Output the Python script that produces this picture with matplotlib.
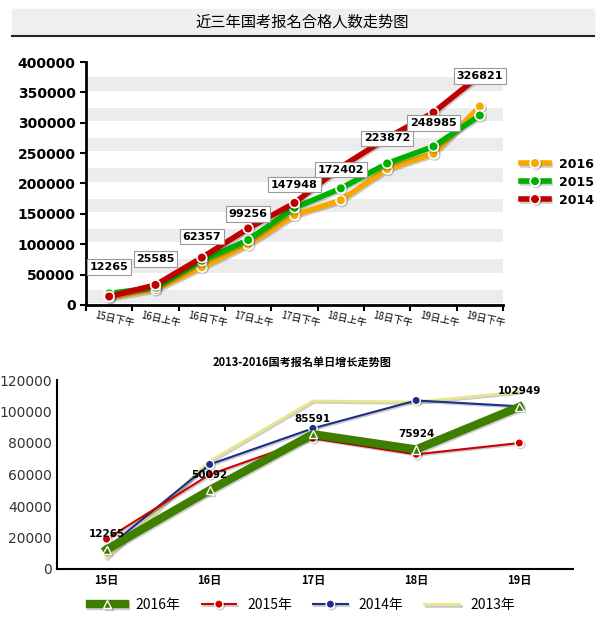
import matplotlib
matplotlib.use("Agg")
import matplotlib.pyplot as plt
import matplotlib.patheffects as pe
from matplotlib import font_manager as fm
from matplotlib.patches import Rectangle

cjk = None
for f in fm.fontManager.ttflist:
    if 'CJK' in f.name and ('SC' in f.name or cjk is None):
        cjk = f.name
        if 'SC' in f.name:
            break
plt.rcParams['font.family'] = 'sans-serif'
plt.rcParams['font.sans-serif'] = [cjk or 'Noto Sans CJK SC', 'DejaVu Sans']

top_cats = ["15日下午", "16日上午", "16日下午", "17日上午", "17日下午", "18日上午", "18日下午", "19日上午", "19日下午"]
s2016 = [12265, 25585, 62357, 99256, 147948, 172402, 223872, 248985, 326821]
s2015 = [19000, 29000, 73000, 107000, 160000, 192000, 233000, 261000, 312000]
s2014 = [14000, 33000, 78000, 126000, 168000, 227000, 275000, 317000, 378000]
top_yticks = [0, 50000, 100000, 150000, 200000, 250000, 300000, 350000, 400000]

bot_cats = ["15日", "16日", "17日", "18日", "19日"]
d2016 = [12265, 50092, 85591, 75924, 102949]
d2015 = [19000, 60000, 83000, 72800, 80000]
d2014 = [13000, 66400, 89300, 107000, 103300]
d2013 = [7000, 68500, 106700, 106000, 112400]
bot_yticks = [0, 20000, 40000, 60000, 80000, 100000, 120000]

fig = plt.figure(figsize=(6.05, 6.19), dpi=100)
fig.patches.append(Rectangle((12/605, 1-35/619), 582/605, 26/619, transform=fig.transFigure, color='#efefef', zorder=0))
fig.add_artist(plt.Line2D([12/605, 594/605], [1-36/619, 1-36/619], color='#222222', lw=1.5))
fig.text(0.5, 1-22/619, "近三年国考报名合格人数走势图", ha='center', va='center', fontsize=11)

ax = fig.add_axes([86/605, 1-305/619, 417/605, 243/619])
ax.set_xlim(0, 9)
ax.set_ylim(0, 400000)
for y in range(0, 400000, 50000):
    ax.axhspan(y + 3000, y + 25000, color='#ececec', zorder=0, lw=0)
xs = [i + 0.5 for i in range(9)]
sh = [pe.SimpleLineShadow(offset=(1, -1), alpha=0.2), pe.Normal()]
for data, col, lab in [(s2016, '#f5a800', '2016'), (s2015, '#00b000', '2015'), (s2014, '#c00000', '2014')]:
    ax.plot(xs, data, color=col, lw=4, marker='o', ms=7, mec='white', mew=1.2, label=lab, path_effects=sh, zorder=3)
for x, v in zip(xs, s2016):
    ax.annotate(str(v), (x, v), xytext=(0, 22), textcoords='offset points', ha='center', va='center', fontsize=8,
                fontweight='bold', family='DejaVu Sans',
                bbox=dict(boxstyle='square,pad=0.25', fc='white', ec='#999999', lw=0.8), zorder=5)
ax.set_yticks(top_yticks)
ax.set_yticklabels([str(t) for t in top_yticks], fontsize=10, fontweight='bold', family='DejaVu Sans')
ax.set_xticks(range(10))
ax.set_xticklabels([])
for x, c in zip(xs, top_cats):
    ax.text(x + 0.12, -0.06, c, transform=ax.get_xaxis_transform(), ha='center', va='center', rotation=-12, fontsize=7)
for s in ['top', 'right']:
    ax.spines[s].set_visible(False)
ax.spines['left'].set_linewidth(2)
ax.spines['bottom'].set_linewidth(2)
ax.tick_params(length=4, width=1.5)
h, l = ax.get_legend_handles_labels()
fig.legend(h, l, loc='center left', bbox_to_anchor=(510/605, 1-182/619), frameon=False,
           prop={'family': 'DejaVu Sans', 'weight': 'bold', 'size': 9}, handlelength=2.2, labelspacing=0.4)

bx = fig.add_axes([57/605, 1-569/619, 516/605, 189/619])
bx.set_xlim(-0.48, 4.52)
bx.set_ylim(0, 120000)
xb = range(5)
bx.plot(xb, d2013, color='#e6e68a', lw=2, path_effects=sh, label='2013年', zorder=2)
bx.plot(xb, d2014, color='#1a2f8a', lw=1.5, marker='o', ms=6, mec='white', mew=1, path_effects=sh, label='2014年', zorder=3)
bx.plot(xb, d2015, color='#d00000', lw=1.5, marker='o', ms=6, mec='white', mew=1, path_effects=sh, label='2015年', zorder=3)
bx.plot(xb, d2016, color='#3f7f00', lw=6, marker='^', ms=6, mfc='#3f7f00', mec='white', mew=1, path_effects=sh, label='2016年', zorder=4)
for x, v in zip(xb, d2016):
    bx.annotate(str(v), (x, v), xytext=(0, 9), textcoords='offset points', ha='center', fontsize=7.5,
                fontweight='bold', family='DejaVu Sans', zorder=6)
bx.set_yticks(bot_yticks)
bx.set_yticklabels([str(t) for t in bot_yticks], fontsize=10, family='DejaVu Sans', color='#333333')
bx.set_xticks(list(xb))
bx.set_xticklabels(bot_cats, fontsize=8, fontweight='bold')
bx.tick_params(length=0)
for s in ['top', 'right']:
    bx.spines[s].set_visible(False)
bx.spines['left'].set_linewidth(1.5)
bx.spines['bottom'].set_linewidth(1.5)
fig.text(0.5, 1-362/619, "2013-2016国考报名单日增长走势图", ha='center', va='center', fontsize=8, fontweight='bold')
h, l = bx.get_legend_handles_labels()
fig.legend(h[::-1], l[::-1], loc='center', bbox_to_anchor=(0.5, 1-605/619), ncol=4, frameon=False,
           prop={'size': 10}, handlelength=2.5, columnspacing=1.5)

fig.savefig('out.png', dpi=100)
